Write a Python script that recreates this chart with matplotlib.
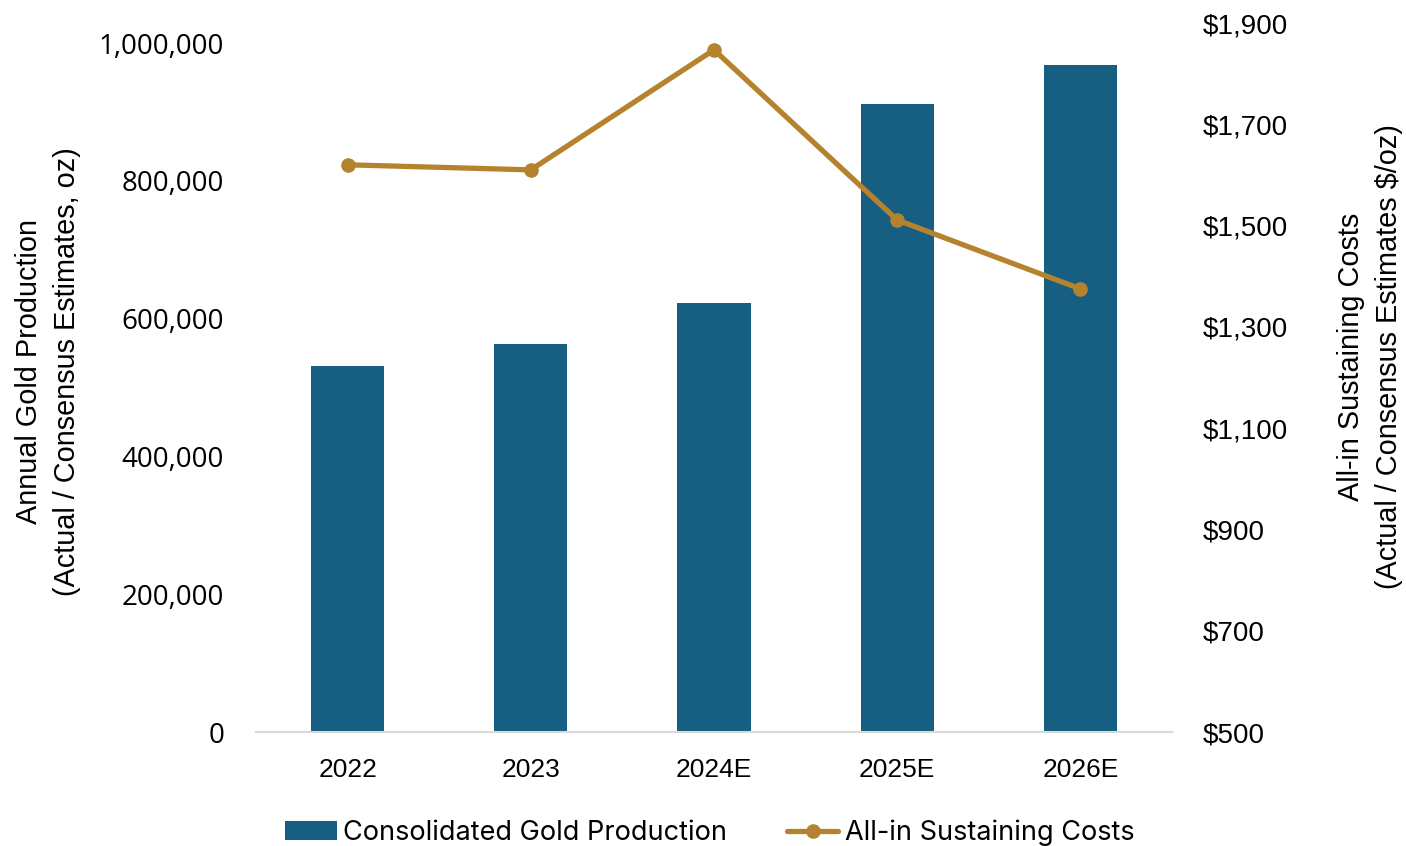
import matplotlib
matplotlib.use("Agg")
import matplotlib.pyplot as plt
from matplotlib.ticker import FuncFormatter, FixedLocator

categories = ["2022", "2023", "2024E", "2025E", "2026E"]
production = [531000, 563000, 623000, 911000, 968000]
aisc = [1620, 1610, 1847, 1511, 1375]
left_ticks = [0, 200000, 400000, 600000, 800000, 1000000]
right_ticks = [500, 700, 900, 1100, 1300, 1500, 1700, 1900]

bar_color = "#175F82"
line_color = "#B5832E"

fig = plt.figure(figsize=(14.06, 8.46), dpi=100)
ax = fig.add_axes([256/1406, 114/846, (1172-256)/1406, (732-23)/846])
ax2 = ax.twinx()

x = list(range(len(categories)))
bars = ax.bar(x, production, width=0.4, color=bar_color, zorder=2,
              label="Consolidated Gold Production")
line, = ax2.plot(x, aisc, color=line_color, lw=3.8, marker="o", markersize=9.5,
                 solid_capstyle="round", label="All-in Sustaining Costs", zorder=3)

ax.set_xlim(-0.5, len(categories) - 0.5)
ax.set_ylim(0, 1000000 * 709 / 689)
ax2.set_ylim(500, 1900)
ax.yaxis.set_major_locator(FixedLocator(left_ticks))
ax2.yaxis.set_major_locator(FixedLocator(right_ticks))
ax.yaxis.set_major_formatter(FuncFormatter(lambda v, p: f"{int(v):,}"))
ax2.yaxis.set_major_formatter(FuncFormatter(lambda v, p: f"${int(v):,}"))
ax.set_xticks(x)
ax.set_xticklabels(categories)

for a in (ax, ax2):
    for s in a.spines.values():
        s.set_visible(False)
ax.spines["bottom"].set_visible(True)
ax.spines["bottom"].set_color("#D9D9D9")
ax.spines["bottom"].set_linewidth(1.5)

ax.tick_params(axis="y", length=0, pad=23, labelsize=20)
ax.tick_params(axis="x", length=0, pad=19, labelsize=19)
ax2.tick_params(axis="y", length=0, pad=22, labelsize=20)
for t in ax.get_yticklabels():
    t.set_fontfamily("Open Sans")
for t in ax.get_xticklabels() + ax2.get_yticklabels():
    t.set_fontfamily("Liberation Sans")

fig.text(48/1406, 1 - 372/846, "Annual Gold Production\n(Actual / Consensus Estimates, oz)",
         rotation=90, ha="center", va="center", multialignment="center",
         fontsize=20.8, family="Liberation Sans", linespacing=1.46)
fig.text(1370/1406, 1 - 357/846, "All-in Sustaining Costs\n(Actual / Consensus Estimates $/oz)",
         rotation=90, ha="center", va="center", multialignment="center",
         fontsize=20.8, family="Liberation Sans", linespacing=1.46)

leg = fig.legend([bars, line], ["Consolidated Gold Production", "All-in Sustaining Costs"],
                 loc="center", bbox_to_anchor=(710/1406, 1 - 833/846), ncol=2, frameon=False,
                 prop={"family": "Inter", "size": 19.5}, handlelength=1.9, handletextpad=0.25,
                 columnspacing=2.2, handleheight=0.7)

fig.savefig("out.png", dpi=100)
